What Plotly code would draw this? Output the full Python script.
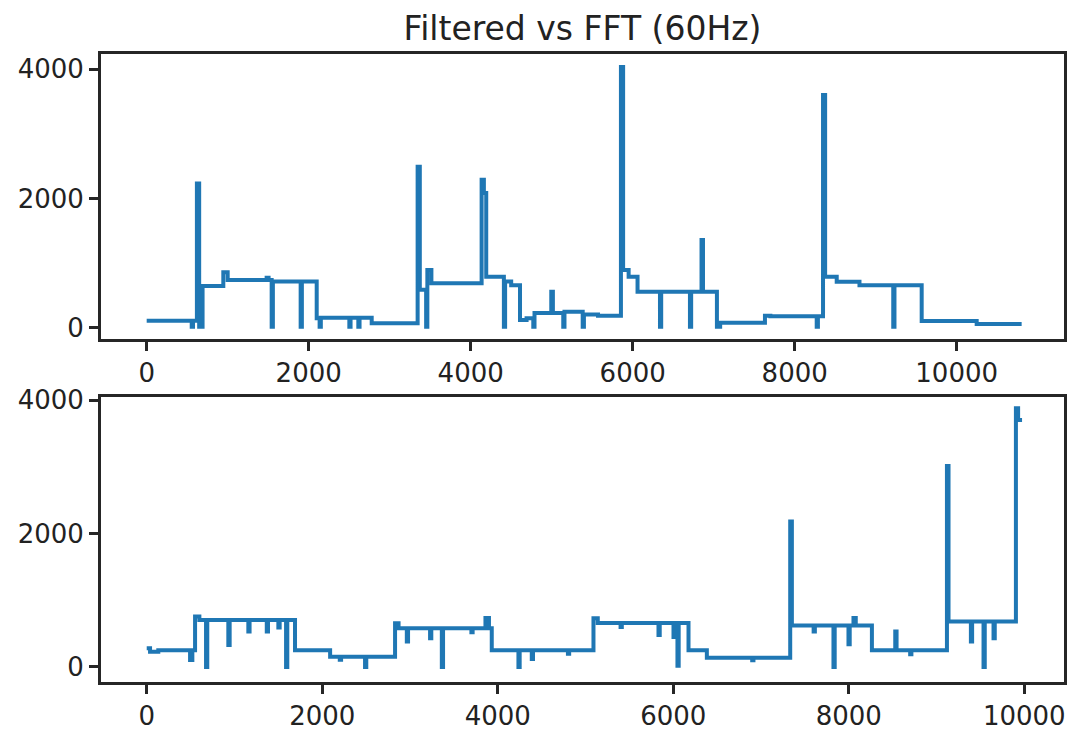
import plotly.graph_objects as go

# ---------------- data ----------------
# Each pair = (start of a level, level value); the trace holds the level until the next x.
# Top panel: filtered signal
top_x = [0, 556, 572, 620, 648, 665, 690, 946, 1000, 1481, 1505, 1543, 1558,
         1901, 1916, 2099, 2135, 2150, 2502, 2517, 2613, 2628, 2778, 3345, 3372,
         3450, 3465, 3515, 4135, 4163, 4192, 4410, 4425, 4500, 4609, 4690, 4773,
         4788, 4995, 5015, 5143, 5158, 5383, 5398, 5572, 5855, 5882, 5950, 6060,
         6337, 6352, 6707, 6722, 6850, 6868, 7040, 7080, 7633, 7700, 8272, 8287,
         8350, 8376, 8519, 8800, 9217, 9232, 9568, 10247, 10802]
top_y = [110, 20, 110, 2230, 20, 20, 650, 860, 740, 775, 740, 20, 720,
         20, 720, 150, 20, 160, 20, 160, 20, 160, 75, 2490, 590,
         20, 895, 690, 2290, 2085, 790, 20, 720, 660, 125, 150, 20,
         230, 560, 230, 20, 250, 20, 210, 190, 4030, 895, 790, 560,
         20, 560, 20, 560, 1360, 560, 20, 82, 190, 180, 20, 180,
         3600, 790, 715, 660, 20, 660, 108, 62, 62]

# Bottom panel: FFT (60 Hz) signal
bottom_x = [0, 38, 132, 494, 520, 551, 600, 676, 690, 930, 945, 1158, 1172,
            1368, 1382, 1500, 1515, 1588, 1602, 1690, 2090, 2200, 2215, 2488, 2502,
            2830, 2870, 2964, 2978, 3229, 3243, 3363, 3377, 3700, 3714, 3860, 3900,
            3932, 4236, 4250, 4388, 4402, 4800, 4814, 5091, 5140, 5400, 5414, 5832,
            5846, 6003, 6017, 6048, 6062, 6174, 6383, 6900, 6914, 7333, 7352, 7600,
            7614, 7826, 7840, 7997, 8011, 8054, 8080, 8264, 8530, 8545, 8700, 8714,
            9119, 9137, 9392, 9406, 9536, 9550, 9650, 9664, 9905, 9930, 9975]
bottom_y = [280, 230, 250, 105, 250, 755, 705, 0, 705, 330, 705, 530, 705,
            530, 705, 590, 705, 0, 705, 250, 155, 110, 155, 0, 155,
            655, 580, 380, 580, 430, 580, 0, 580, 520, 580, 735, 580,
            250, 0, 250, 120, 250, 200, 250, 730, 660, 600, 660, 480,
            660, 450, 660, 20, 660, 250, 140, 100, 140, 2180, 620, 530,
            620, 0, 620, 340, 620, 735, 620, 250, 530, 250, 190, 250,
            3010, 680, 380, 680, 0, 680, 430, 680, 3875, 3700, 3700]

title_text = "Filtered vs FFT (60Hz)"
x_tickvals = [0, 2000, 4000, 6000, 8000, 10000]
x_ticktext = ["0", "2000", "4000", "6000", "8000", "10000"]
y_tickvals = [0, 2000, 4000]
y_ticktext = ["0", "2000", "4000"]

# ---------------- figure ----------------
LINE_COLOR = "#1f77b4"
AX_COLOR = "#262626"
FONT = "DejaVu Sans"

fig = go.Figure()
fig.add_trace(go.Scatter(x=top_x, y=top_y, mode="lines",
                         line=dict(color=LINE_COLOR, width=4, shape="hv"),
                         xaxis="x", yaxis="y", showlegend=False))
fig.add_trace(go.Scatter(x=bottom_x, y=bottom_y, mode="lines",
                         line=dict(color=LINE_COLOR, width=4, shape="hv"),
                         xaxis="x2", yaxis="y2", showlegend=False))

W, H = 1073, 731
L, R, T, B = 101, 9, 54, 49
plot_h = H - T - B
panel_h = 285
bot_dom = [0, panel_h / plot_h]
top_dom = [1 - panel_h / plot_h, 1]

axis_common = dict(
    showline=True, linecolor=AX_COLOR, linewidth=3, mirror=True,
    ticks="outside", ticklen=9, tickwidth=2.5, tickcolor=AX_COLOR,
    showgrid=False, zeroline=False, automargin=False,
    tickfont=dict(family=FONT, size=26, color="#222222"),
)

fig.update_layout(
    width=W, height=H,
    margin=dict(l=L, r=R, t=T, b=B),
    paper_bgcolor="white", plot_bgcolor="white",
    title=dict(text=title_text, x=0.5, xref="paper", y=1 - 28 / H, yref="container",
               yanchor="middle", xanchor="center",
               font=dict(family=FONT, size=33, color="#222222")),
    xaxis=dict(domain=[0, 1], anchor="y", range=[-564, 11325],
               tickvals=x_tickvals, ticktext=x_ticktext, **axis_common),
    yaxis=dict(domain=top_dom, anchor="x", range=[-170, 4232],
               tickvals=y_tickvals, ticktext=y_ticktext, **axis_common),
    xaxis2=dict(domain=[0, 1], anchor="y2", range=[-521, 10453],
                tickvals=x_tickvals, ticktext=x_ticktext, **axis_common),
    yaxis2=dict(domain=bot_dom, anchor="x2", range=[-225, 4045],
                tickvals=y_tickvals, ticktext=y_ticktext, **axis_common),
)

fig.write_html("out.html")
